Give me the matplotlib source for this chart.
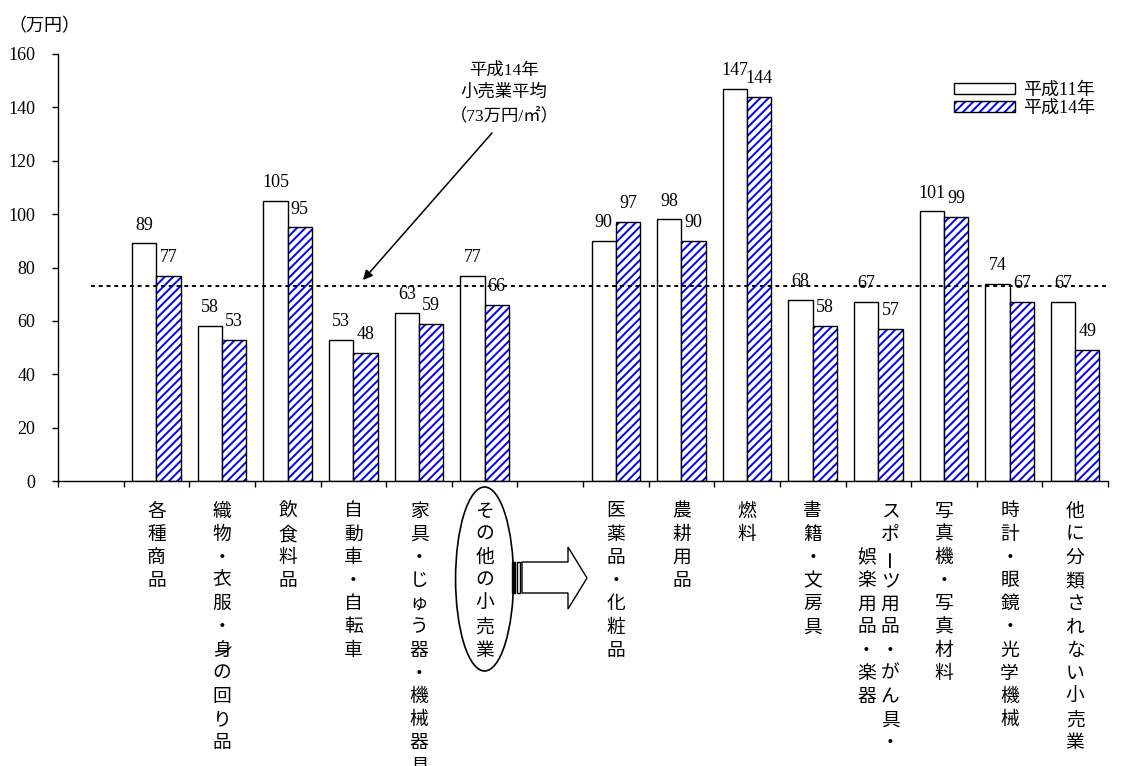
import numpy as np
import matplotlib
matplotlib.use('Agg')
import matplotlib.pyplot as plt
from matplotlib.patches import Ellipse, Polygon, Rectangle, Patch
from matplotlib.legend_handler import HandlerTuple

# serif for digits, CJK gothic falls in for the Japanese glyphs
plt.rcParams['font.family'] = ['Liberation Serif', 'Noto Sans CJK JP']
plt.rcParams['hatch.linewidth'] = 1.4

left_categories = ['各種商品', '織物・衣服・身の回り品', '飲食料品', '自動車・自転車',
                   '家具・じゅう器・機械器具', 'その他の小売業']
right_categories = ['医薬品・化粧品', '農耕用品', '燃料', '書籍・文房具',
                    'スポーツ用品・がん具・\n娯楽用品・楽器', '写真機・写真材料',
                    '時計・眼鏡・光学機械', '他に分類されない小売業']
h11_left = [89, 58, 105, 53, 63, 77]
h14_left = [77, 53, 95, 48, 59, 66]
h11_right = [90, 98, 147, 68, 67, 101, 74, 67]
h14_right = [97, 90, 144, 58, 57, 99, 67, 49]
series_labels = ['平成11年', '平成14年']
average_h14 = 73
average_text = '平成14年\n小売業平均\n（73万円/㎡）'
unit_label = '（万円）'
yticks = [0, 20, 40, 60, 80, 100, 120, 140, 160]

categories = left_categories + right_categories
h11 = np.array(h11_left + h11_right)
h14 = np.array(h14_left + h14_right)
# one empty slot before the first group and one between the groups
x = np.r_[np.arange(1, 1 + len(left_categories)),
          np.arange(2 + len(left_categories), 2 + len(categories))]
nslots = x[-1] + 1

W, H = 1133, 766
fig = plt.figure(figsize=(W / 100, H / 100), dpi=100)
ax_l, ax_r, ax_b, ax_t = 58, 1108, 481, 54
ax = fig.add_axes([ax_l / W, 1 - ax_b / H, (ax_r - ax_l) / W, (ax_b - ax_t) / H])
ax.set_xlim(-0.5, nslots - 0.5)
ax.set_ylim(yticks[0], yticks[-1])

px_x = (ax_r - ax_l) / nslots
px_y = (ax_b - ax_t) / (yticks[-1] - yticks[0])


def ref_x(p):
    return (p - ax_l) / px_x - 0.5


def ref_y(q):
    return (ax_b - q) / px_y


w = 0.37
ax.bar(x - w / 2, h11, w, color='white', edgecolor='black', lw=1, zorder=2)
ax.bar(x + w / 2, h14, w, color='white', edgecolor='blue', hatch='////', lw=0, zorder=2)
ax.bar(x + w / 2, h14, w, color='none', edgecolor='black', lw=1, zorder=2)

for xs, vals in ((x - w / 2, h11), (x + w / 2, h14)):
    for xi, v in zip(xs, vals):
        ax.annotate(str(v), (xi, v), xytext=(0, 10), textcoords='offset points',
                    ha='center', va='baseline', fontsize=13)

ax.plot([0, nslots - 0.5], [average_h14, average_h14], color='black', lw=1.4,
        linestyle=(0, (2, 2)), zorder=3, clip_on=False)

# axes look
for s in ('top', 'right'):
    ax.spines[s].set_visible(False)
for s in ('left', 'bottom'):
    ax.spines[s].set_linewidth(1)
ax.set_xticks(np.arange(-0.5, nslots, 1))
ax.set_xticklabels([])
ax.set_yticks(yticks)
ax.tick_params(axis='x', length=4.5, width=1, direction='out')
ax.tick_params(axis='y', length=4.5, width=1, pad=12, labelsize=13)

# vertical category labels, one glyph at a time
step, first, col_gap = 16.7, 22.3, 17.2
for xi, label in zip(x, categories):
    cols = label.split('\n')
    n = max(len(c) for c in cols)
    for j, col in enumerate(cols):
        dx = ((len(cols) - 1) / 2 - j) * col_gap
        start = (n - len(col)) / 2
        for i, ch in enumerate(col):
            ax.annotate(ch, (xi, 0), xytext=(dx, -(first + (start + i) * step)),
                        textcoords='offset points', ha='center', va='center',
                        fontsize=13.5, rotation=90 if ch == 'ー' else 0,
                        annotation_clip=False)

# ellipse round その他の小売業 and the striped arrow out of it
ax.add_patch(Ellipse((x[len(left_categories) - 1], ref_y(579)), 58 / px_x, 184 / px_y,
                     fill=False, lw=1.2, clip_on=False))
body = [(522, 562), (568, 562), (568, 547), (587, 578), (568, 609), (568, 593), (522, 593)]
ax.add_patch(Polygon([(ref_x(a), ref_y(b)) for a, b in body], closed=True,
                     facecolor='white', edgecolor='black', lw=1, clip_on=False))
ax.add_patch(Rectangle((ref_x(512), ref_y(593)), 3 / px_x, 31 / px_y,
                       facecolor='black', edgecolor='black', lw=1, clip_on=False))
ax.add_patch(Rectangle((ref_x(517), ref_y(593)), 3 / px_x, 31 / px_y,
                       facecolor='white', edgecolor='black', lw=1, clip_on=False))

# average note with arrow
ax.text(ref_x(504), ref_y(93), average_text, ha='center', va='center',
        fontsize=12.5, linespacing=1.5)
ax.annotate('', xy=(ref_x(363), ref_y(280)), xytext=(ref_x(492), ref_y(133)),
            arrowprops=dict(arrowstyle='-|>', lw=1.1, color='black',
                            mutation_scale=14, shrinkA=0, shrinkB=0))

fig.text(8 / W, 1 - 27 / H, unit_label, ha='left', va='center', fontsize=13)

h11_patch = Patch(facecolor='white', edgecolor='black', lw=1)
h14_hatch = Patch(facecolor='white', edgecolor='blue', hatch='////', lw=0)
h14_edge = Patch(facecolor='none', edgecolor='black', lw=1)
ax.legend([h11_patch, (h14_hatch, h14_edge)], series_labels,
          handler_map={tuple: HandlerTuple(ndivide=1)},
          loc='upper left', bbox_to_anchor=(954 / W, 1 - 82 / H),
          bbox_transform=fig.transFigure, frameon=False, fontsize=13,
          handlelength=3.4, handleheight=0.55, handletextpad=0.4,
          labelspacing=0.05, borderpad=0, borderaxespad=0)

fig.savefig('out.png', dpi=100)
